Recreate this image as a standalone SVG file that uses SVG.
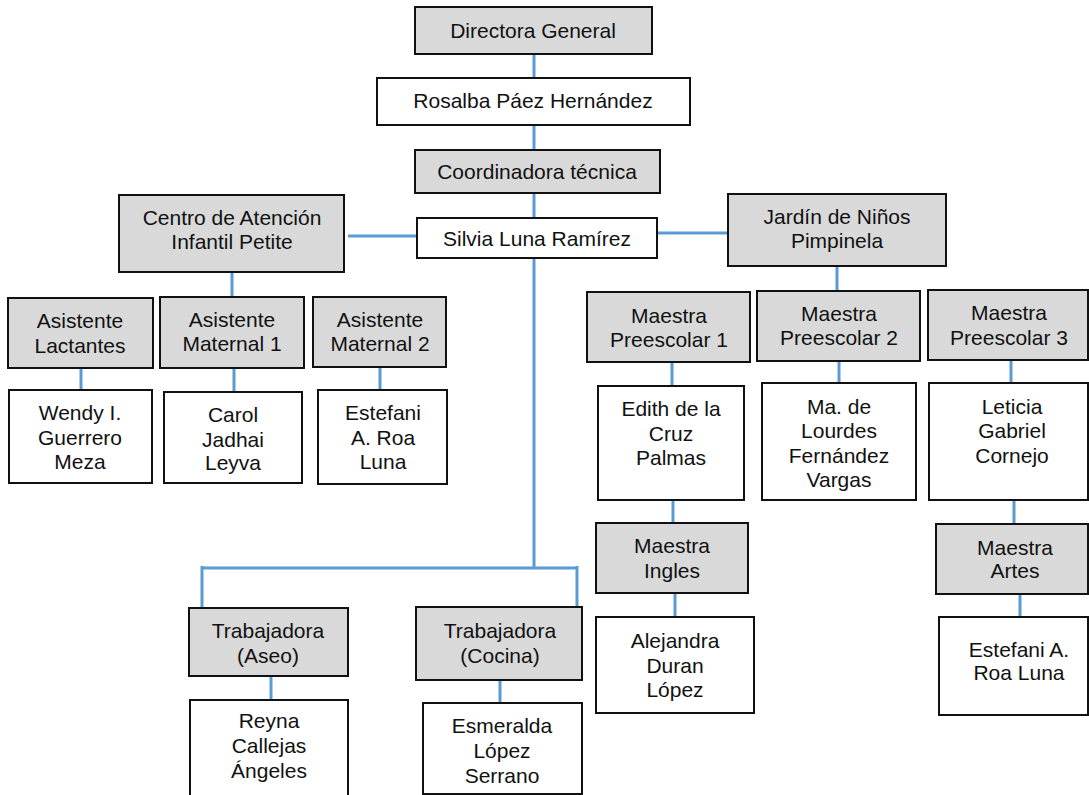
<svg xmlns="http://www.w3.org/2000/svg" width="1089" height="795" viewBox="0 0 1089 795">
<style>
.g{fill:#d9d9d9;stroke:#111;stroke-width:2}
.w{fill:#fff;stroke:#111;stroke-width:2}
text{font-family:"Liberation Sans",Arial,sans-serif;font-size:21px;fill:#111;text-anchor:middle}
.c{stroke:#5b9bd5;stroke-width:3;fill:none}
</style>
<rect width="1089" height="795" fill="#fff"/>
<g id="connectors">
<path class="c" d="M534 54V78M534 125V150M534 193V218M348 236H417M657 233H728M534 258V568M202 568H577M202 566V608M577 566V608M232 272V297M81 368V390M234 368V392M380 367V390M837 266V291M672 362V386M839 361V383M1011 360V383M673 500V523M675 593V617M1014 500V524M1020 594V617M271 676V700M500 680V703"/>
</g>
<g id="directora"><rect class="g" x="415" y="7" width="237" height="47"/><text x="533" y="38">Directora General</text></g>
<g id="rosalba"><rect class="w" x="377" y="78" width="313" height="47"/><text x="533" y="108">Rosalba Páez Hernández</text></g>
<g id="coordinadora"><rect class="g" x="415" y="150" width="245" height="43"/><text x="537" y="179">Coordinadora técnica</text></g>
<g id="silvia"><rect class="w" x="417" y="218" width="240" height="40"/><text x="537" y="246">Silvia Luna Ramírez</text></g>
<g id="centro"><rect class="g" x="119" y="195" width="225" height="77"/><text x="232" y="225">Centro de Atención</text><text x="232" y="249">Infantil Petite</text></g>
<g id="jardin"><rect class="g" x="728" y="194" width="218" height="72"/><text x="837" y="224">Jardín de Niños</text><text x="837" y="248">Pimpinela</text></g>
<g id="lactantes"><rect class="g" x="8" y="298" width="145" height="70"/><text x="80" y="328">Asistente</text><text x="80" y="353">Lactantes</text></g>
<g id="maternal1"><rect class="g" x="160" y="297" width="144" height="71"/><text x="232" y="327">Asistente</text><text x="232" y="351">Maternal 1</text></g>
<g id="maternal2"><rect class="g" x="313" y="297" width="133" height="70"/><text x="380" y="327">Asistente</text><text x="380" y="351">Maternal 2</text></g>
<g id="wendy"><rect class="w" x="9" y="390" width="143" height="93"/><text x="80" y="420">Wendy I.</text><text x="80" y="445">Guerrero</text><text x="80" y="469">Meza</text></g>
<g id="carol"><rect class="w" x="164" y="392" width="138" height="91"/><text x="233" y="422">Carol</text><text x="233" y="447">Jadhai</text><text x="233" y="470">Leyva</text></g>
<g id="estefani1"><rect class="w" x="318" y="390" width="129" height="94"/><text x="383" y="420">Estefani</text><text x="383" y="445">A. Roa</text><text x="383" y="469">Luna</text></g>
<g id="mp1"><rect class="g" x="587" y="292" width="163" height="70"/><text x="669" y="323">Maestra</text><text x="669" y="347">Preescolar 1</text></g>
<g id="mp2"><rect class="g" x="757" y="291" width="163" height="70"/><text x="839" y="321">Maestra</text><text x="839" y="345">Preescolar 2</text></g>
<g id="mp3"><rect class="g" x="928" y="290" width="160" height="70"/><text x="1009" y="320">Maestra</text><text x="1009" y="345">Preescolar 3</text></g>
<g id="edith"><rect class="w" x="598" y="386" width="146" height="114"/><text x="671" y="416">Edith de la</text><text x="671" y="441">Cruz</text><text x="671" y="465">Palmas</text></g>
<g id="lourdes"><rect class="w" x="762" y="383" width="154" height="117"/><text x="839" y="414">Ma. de</text><text x="839" y="438">Lourdes</text><text x="839" y="463">Fernández</text><text x="839" y="487">Vargas</text></g>
<g id="leticia"><rect class="w" x="929" y="383" width="159" height="117"/><text x="1012" y="414">Leticia</text><text x="1012" y="438">Gabriel</text><text x="1012" y="463">Cornejo</text></g>
<g id="ingles"><rect class="g" x="596" y="523" width="152" height="70"/><text x="672" y="553">Maestra</text><text x="672" y="578">Ingles</text></g>
<g id="alejandra"><rect class="w" x="596" y="617" width="158" height="96"/><text x="675" y="648">Alejandra</text><text x="675" y="673">Duran</text><text x="675" y="697">López</text></g>
<g id="artes"><rect class="g" x="936" y="524" width="152" height="70"/><text x="1015" y="555">Maestra</text><text x="1015" y="578">Artes</text></g>
<g id="estefani2"><rect class="w" x="939" y="617" width="149" height="98"/><text x="1019" y="657">Estefani A.</text><text x="1019" y="680">Roa Luna</text></g>
<g id="aseo"><rect class="g" x="189" y="608" width="159" height="68"/><text x="268" y="638">Trabajadora</text><text x="268" y="663">(Aseo)</text></g>
<g id="cocina"><rect class="g" x="416" y="607" width="166" height="73"/><text x="500" y="638">Trabajadora</text><text x="500" y="663">(Cocina)</text></g>
<g id="reyna"><rect class="w" x="190" y="700" width="158" height="100"/><text x="269" y="728">Reyna</text><text x="269" y="753">Callejas</text><text x="269" y="778">Ángeles</text></g>
<g id="esmeralda"><rect class="w" x="423" y="703" width="159" height="91"/><text x="502" y="733">Esmeralda</text><text x="502" y="758">López</text><text x="502" y="783">Serrano</text></g>
</svg>
